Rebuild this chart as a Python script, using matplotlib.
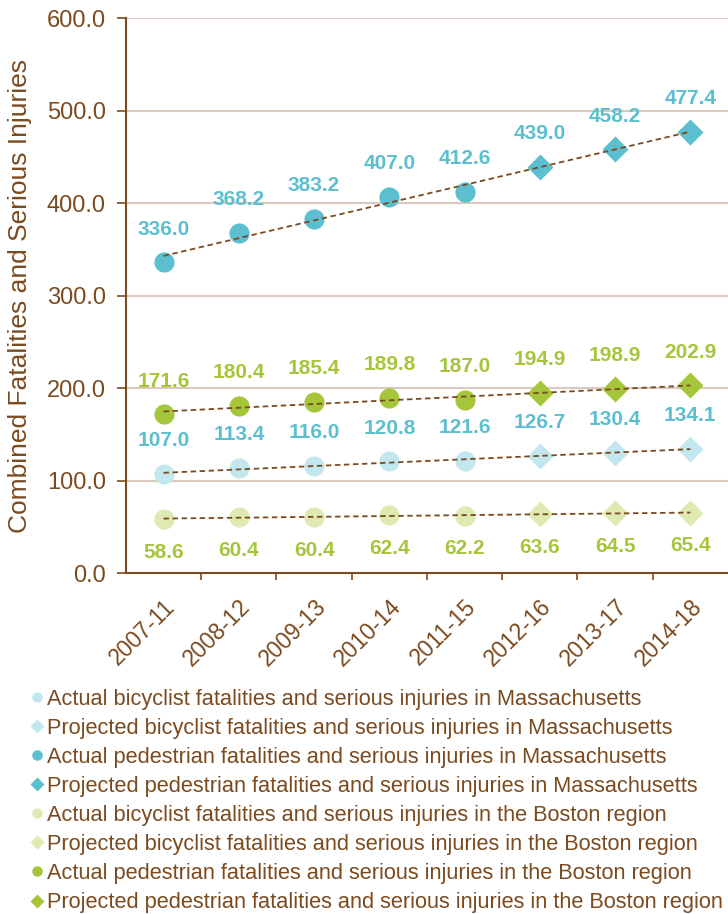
import numpy as np
import matplotlib

matplotlib.use("Agg")
import matplotlib.pyplot as plt

plt.rcParams["font.family"] = ["Liberation Sans", "DejaVu Sans"]

periods = ["2007-11", "2008-12", "2009-13", "2010-14", "2011-15", "2012-16", "2013-17", "2014-18"]
ped_ma = [336.0, 368.2, 383.2, 407.0, 412.6, 439.0, 458.2, 477.4]
bike_ma = [107.0, 113.4, 116.0, 120.8, 121.6, 126.7, 130.4, 134.1]
ped_bos = [171.6, 180.4, 185.4, 189.8, 187.0, 194.9, 198.9, 202.9]
bike_bos = [58.6, 60.4, 60.4, 62.4, 62.2, 63.6, 64.5, 65.4]
n_actual = 5  # first five periods are observed, the rest projected

BROWN = "#7b4a1e"
GRID = "#dcc9bd"
TEAL = "#5bbfcf"
LIGHT_TEAL = "#c3e7ee"
GREEN = "#a5c63b"
LIGHT_GREEN = "#dfe9b2"

# (values, marker colour, label colour, label side, legend text stem)
series = [
    (bike_ma, LIGHT_TEAL, TEAL, 1, "bicyclist fatalities and serious injuries in Massachusetts"),
    (ped_ma, TEAL, TEAL, 1, "pedestrian fatalities and serious injuries in Massachusetts"),
    (bike_bos, LIGHT_GREEN, GREEN, -1, "bicyclist fatalities and serious injuries in the Boston region"),
    (ped_bos, GREEN, GREEN, 1, "pedestrian fatalities and serious injuries in the Boston region"),
]

fig = plt.figure(figsize=(7.28, 9.14), dpi=100)
ax = fig.add_axes([0.173, 0.373, 0.827, 0.607])

x = np.arange(len(periods))
handles = []
for vals, mcol, tcol, side, stem in series:
    y = np.array(vals)
    act, = ax.plot(x[:n_actual], y[:n_actual], "o", ms=14.5, color=mcol, mec="none",
                   zorder=3, label="Actual " + stem)
    proj, = ax.plot(x[n_actual:], y[n_actual:], "D", ms=13.5, color=mcol, mec="none",
                    zorder=3, label="Projected " + stem)
    handles += [act, proj]
    # linear trend line
    k, b = np.polyfit(x, y, 1)
    ax.plot(x[[0, -1]], k * x[[0, -1]] + b, ls=(0, (3, 2)), lw=1.3, color=BROWN, zorder=4)
    for xi, yi in zip(x, y):
        ax.annotate(f"{yi:.1f}", (xi, yi), xytext=(0, 24 * side), textcoords="offset points",
                    ha="center", va="center", fontsize=15, fontweight="bold", color=tcol)

ax.set_xlim(-0.5, len(periods) - 0.5)
ax.set_ylim(0, 600)
ax.set_yticks(np.arange(0, 601, 100))
ax.set_yticklabels([f"{v:.1f}" for v in np.arange(0, 601, 100)])
ax.set_xticks(x)
ax.set_xticklabels(periods, rotation=45, ha="right", rotation_mode="anchor")
ax.set_xticks(np.arange(0.5, len(periods) - 0.5), minor=True)
ax.tick_params(axis="x", which="major", length=0, pad=16, labelsize=16.5, colors=BROWN)
ax.tick_params(axis="x", which="minor", length=5, width=1.2, color=BROWN)
ax.tick_params(axis="y", length=6.5, width=1.2, pad=8, color=BROWN, labelcolor=BROWN, labelsize=17)
ax.grid(axis="y", color=GRID, lw=1.5)
ax.set_axisbelow(True)
for s in ("top", "right"):
    ax.spines[s].set_visible(False)
for s in ("left", "bottom"):
    ax.spines[s].set_color(BROWN)
    ax.spines[s].set_linewidth(1.5)
ax.set_ylabel("Combined Fatalities and Serious Injuries", fontsize=19, color=BROWN)
ax.yaxis.set_label_coords(-0.156, 0.5)

leg = fig.legend(handles, [h.get_label() for h in handles],
                 loc="upper left", bbox_to_anchor=(0.042, 0.2465), frameon=False,
                 markerscale=0.52, handlelength=0.6, handletextpad=0.16,
                 labelspacing=0.37, fontsize=15.7, borderaxespad=0, borderpad=0)
for t in leg.get_texts():
    t.set_color(BROWN)

fig.savefig("out.png", dpi=100)
